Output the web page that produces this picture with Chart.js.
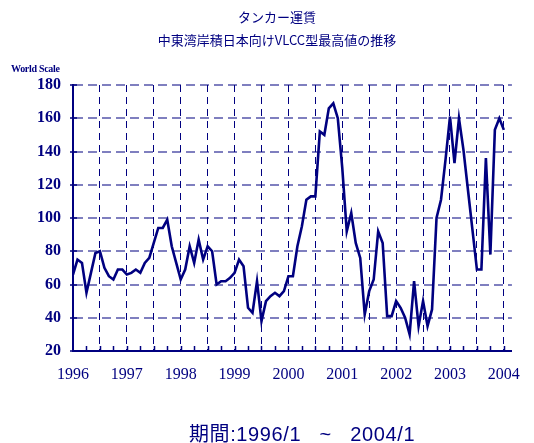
<!DOCTYPE html>
<html><head><meta charset="utf-8">
<script src="https://cdn.jsdelivr.net/npm/chart.js@4/dist/chart.umd.min.js"></script>
<style>
html,body{margin:0;padding:0;background:#fff;}
#wrap{position:relative;width:534px;height:443px;overflow:hidden;background:#fff;}
canvas{position:absolute;left:0;top:0;}
.t{position:absolute;color:#000080;white-space:nowrap;}
</style></head><body>
<div id="wrap">
<canvas id="c" width="534" height="443"></canvas>
<div class="t" style="left:20px;width:514px;top:8px;text-align:center;font:13px 'Noto Sans CJK JP';line-height:18px">タンカー運賃</div>
<div class="t" style="left:20px;width:514px;top:31px;text-align:center;font:13px 'Noto Sans CJK JP';line-height:18px">中東湾岸積日本向けVLCC型最高値の推移</div>
<div class="t" style="left:11px;top:63px;font:bold 10px 'Liberation Serif';letter-spacing:-0.3px;line-height:12px">World Scale</div>
<div class="t" style="left:189px;top:422px;font:20px 'Liberation Sans','Noto Sans CJK JP';letter-spacing:0.6px;line-height:24px">期間:1996/1 &nbsp; ~ &nbsp; 2004/1</div>
</div>
<script>
const yearLabels = ['1996','1997','1998','1999','2000','2001','2002','2003','2004'];
// monthly values, 1996/1 .. 2004/1
const v1996 = [66, 75, 73, 55, 67, 79, 80, 70, 65, 63, 69, 69];
const v1997 = [66, 67, 69, 67, 73, 76, 85, 94, 94, 99, 83, 73];
const v1998 = [63, 69, 83, 73, 87, 75, 83, 80, 60, 62, 62, 64];
const v1999 = [67, 75, 71, 46, 43, 62, 38, 50, 53, 55, 53, 56];
const v2000 = [65, 65, 83, 95, 111, 113, 113, 152, 150, 166, 169, 160];
const v2001 = [130, 92, 103, 85, 76, 42, 56, 63, 92, 85, 41, 41];
const v2002 = [50, 46, 40, 30, 62, 35, 50, 35, 45, 100, 111, 135];
const v2003 = [161, 133, 160, 141, 117, 93, 69, 69, 136, 78, 153, 160];
const v2004 = [153];
const yTicks = [20, 40, 60, 80, 100, 120, 140, 160, 180];

const values = [].concat(v1996, v1997, v1998, v1999, v2000, v2001, v2002, v2003, v2004);
const points = values.map((v, i) => ({x: i, y: v}));
const NAVY = '#000080';

const innerTicks = {
  id: 'innerTicks',
  afterDraw(chart) {
    const {ctx, chartArea: a, scales: {x, y}} = chart;
    ctx.save();
    ctx.strokeStyle = NAVY;
    ctx.lineWidth = 1.5;
    for (let m = 3; m < values.length; m += 3) {
      const px = Math.round(x.getPixelForValue(m)) + 0.5;
      ctx.beginPath(); ctx.moveTo(px, a.bottom); ctx.lineTo(px, a.bottom - 5); ctx.stroke();
    }
    yTicks.forEach(v => {
      const py = Math.round(y.getPixelForValue(v));
      ctx.beginPath(); ctx.moveTo(a.left - 3, py); ctx.lineTo(a.left + 4, py); ctx.stroke();
    });
    ctx.restore();
  }
};

new Chart(document.getElementById('c'), {
  type: 'line',
  data: { datasets: [{ data: points, borderColor: NAVY, borderWidth: 2.6, pointRadius: 0, tension: 0, fill: false }] },
  options: {
    responsive: false, animation: false,
    layout: { padding: { top: 85, right: 8.5, bottom: 52, left: 0 } },
    plugins: { legend: { display: false }, tooltip: { enabled: false } },
    scales: {
      x: {
        type: 'linear', min: 0, max: 97.8,
        afterBuildTicks: s => { const t = []; for (let m = 0; m < values.length; m += 6) t.push({value: m}); s.ticks = t; },
        afterFit: s => { s.height = 40; },
        ticks: {
          autoSkip: false, maxRotation: 0, padding: 14, color: NAVY,
          font: { family: 'Liberation Serif', size: 16 },
          callback: v => (v % 12 === 0 ? yearLabels[v / 12] : '')
        },
        grid: { drawTicks: false, lineWidth: 1, color: c => (c.tick && c.tick.value > 0 ? NAVY : 'rgba(0,0,0,0)') },
        border: { display: true, color: NAVY, width: 2, dash: [7, 5] }
      },
      y: {
        min: 20, max: 180,
        afterBuildTicks: s => { s.ticks = yTicks.map(v => ({value: v})); },
        afterFit: s => { s.width = 73; },
        ticks: { padding: 12, color: NAVY, font: { family: 'Liberation Serif', size: 16, weight: 'bold' } },
        grid: { drawTicks: false, lineWidth: 2, color: c => (c.tick && c.tick.value > 20 ? 'rgba(0,0,128,0.5)' : 'rgba(0,0,0,0)') },
        border: { display: true, color: NAVY, width: 2, dash: [9, 5] }
      }
    }
  },
  plugins: [innerTicks]
});
</script>
</body></html>
